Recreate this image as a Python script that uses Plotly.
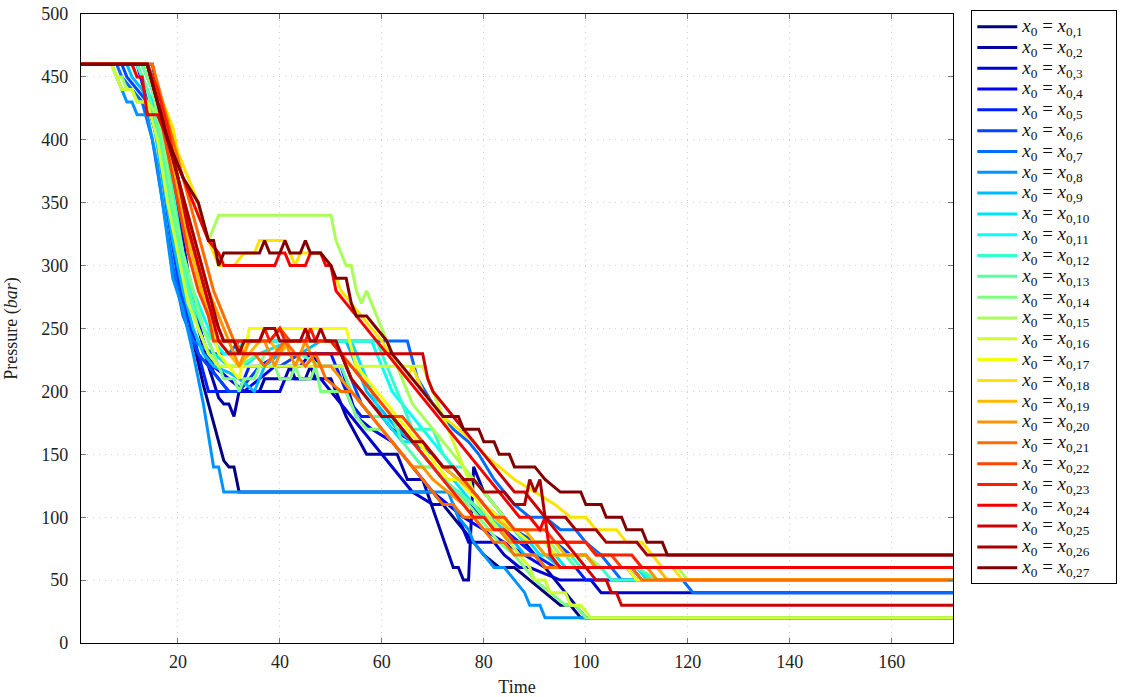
import plotly.graph_objects as go

# ---- data: breakpoints (time, pressure) of each trajectory ----
T01 = [1,15,17,19,21,23,25,27,28,29,30,31,32,70,72,74,76,78,80,83,86,89,92,95,97,99,172]
P01 = [460,460,420,350,290,240,205,175,160,145,140,140,120,120,110,100,90,80,70,60,60,50,40,30,30,20,20]

T02 = [1,14,16,18,20,22,24,26,28,29,30,31,32,36,37,41,42,43,45,46,47,50,51,53,55,57,63,64,65,68,74,75,76,77,78,80,82,84,86,88,90,92,94,96,98,100,172]
P02 = [460,460,430,390,340,290,250,220,195,190,190,180,200,200,210,210,220,210,210,220,210,210,200,180,165,150,150,140,130,130,60,60,50,50,140,120,110,100,90,80,70,60,50,40,30,20,20]

T03 = [1,14,15,17,19,21,23,25,27,29,30,40,41,48,50,52,54,56,58,60,62,64,66,68,70,74,77,82,84,87,89,95,101,103,172]
P03 = [460,460,450,420,370,320,270,240,215,205,200,200,210,210,200,190,180,170,160,150,140,130,120,115,110,110,80,80,70,60,60,50,50,40,40]

T04 = [1,13,15,17,19,21,23,25,27,30,33,36,39,44,46,48,52,55,58,62,64,66,68,70,73,76,80,84,88,92,96,100,109,111,172]
P04 = [460,460,440,410,360,310,270,240,220,210,200,210,220,220,230,220,220,180,170,160,150,140,130,120,110,100,90,80,70,60,60,60,60,50,50]

T05 = [1,12,14,16,18,20,22,24,26,32,34,36,40,50,52,54,56,60,62,66,68,70,72,74,77,80,84,87,90,94,98,100,172]
P05 = [460,460,430,400,350,300,260,230,200,200,220,220,230,230,210,190,180,180,170,160,150,140,130,120,110,100,90,80,70,60,60,50,50]

T06 = [1,9,10,12,14,16,18,20,22,24,26,28,30,32,34,36,40,44,52,54,56,58,62,64,66,70,72,75,78,80,83,86,90,94,97,100,102,108,110,172]
P06 = [460,460,450,440,430,400,340,290,250,230,220,210,200,200,210,220,220,230,230,210,190,180,180,170,160,150,140,130,120,110,100,90,80,80,70,70,60,60,50,50]

T07 = [1,8,9,11,13,15,17,19,21,23,27,30,32,65,67,70,72,74,77,79,82,84,86,89,92,95,98,100,103,105,107,119,121,172]
P07 = [460,460,450,440,430,400,350,300,260,240,230,230,240,240,210,190,180,170,160,150,130,120,110,100,100,90,90,80,70,60,50,50,40,40]

T08 = [1,7,8,9,10,11,12,14,16,18,19,21,23,25,26,27,28,29,73,75,77,78,80,82,84,86,88,89,91,92,172]
P08 = [460,460,450,440,430,430,420,420,380,320,290,265,230,190,165,140,140,120,120,100,90,80,70,60,60,50,40,30,30,20,20]

T09 = [1,10,11,13,15,17,19,21,23,25,27,30,32,35,37,40,44,48,53,55,57,59,61,63,66,68,70,72,75,78,80,83,86,88,92,95,109,111,172]
P09 = [460,460,450,440,420,370,320,280,250,230,220,215,210,200,220,230,230,240,240,220,200,190,180,170,160,150,140,130,120,110,100,90,80,70,70,60,60,50,50]

T10 = [1,12,13,15,17,19,21,23,25,27,30,33,36,42,54,56,58,60,62,64,66,68,70,72,74,76,78,81,84,86,89,91,94,96,110,112,172]
P10 = [460,460,450,430,390,340,300,270,250,230,220,220,230,240,240,220,200,180,170,160,160,150,140,130,130,120,110,100,90,80,80,70,70,60,60,50,50]

T11 = [1,13,15,17,19,21,23,25,27,29,31,33,58,60,62,64,66,68,70,72,74,76,78,80,83,86,88,92,94,100,102,110,113,172]
P11 = [460,460,440,400,350,310,280,260,240,230,230,240,240,220,200,190,180,170,160,150,140,130,120,110,100,90,80,80,70,70,60,60,50,50]

T12 = [1,13,15,17,19,21,23,25,27,59,61,62,63,65,66,70,72,74,76,78,80,82,84,86,88,92,94,97,99,103,105,172]
P12 = [460,460,440,410,360,310,270,250,240,240,220,210,200,180,170,170,150,140,140,130,120,110,100,90,80,80,70,70,60,60,50,50]

T13 = [1,12,14,16,18,20,22,24,26,28,32,36,44,48,52,54,56,58,62,64,66,68,70,72,75,78,80,83,86,90,92,96,98,110,114,172]
P13 = [460,460,440,410,360,320,280,250,230,220,220,230,230,220,220,200,190,180,180,160,150,140,140,130,120,110,100,90,80,80,70,70,60,60,50,50]

T14 = [1,13,15,17,19,21,23,25,27,29,31,32,33,35,37,38,40,42,43,44,46,47,48,53,55,57,60,62,64,66,70,72,74,77,79,81,83,86,88,90,93,96,98,100,172]
P14 = [460,460,440,400,350,310,280,250,230,210,210,200,210,210,230,230,210,210,220,210,210,220,200,200,180,170,170,160,150,140,140,130,120,110,100,90,80,70,60,50,40,30,30,20,20]

T15 = [1,7,8,9,10,11,12,14,16,18,20,22,23,24,25,26,28,50,51,52,53,54,55,56,57,58,59,60,61,62,63,64,65,66,68,70,72,74,76,78,80,82,84,86,88,90,93,95,100,103,118,120,172]
P15 = [460,460,450,450,440,440,430,430,420,400,380,360,350,350,330,320,340,340,320,310,300,300,280,270,280,270,260,250,240,230,220,210,200,190,180,170,160,150,140,130,120,110,100,90,90,80,80,70,70,60,60,50,50]

T16 = [1,7,8,9,11,12,14,16,18,20,22,24,26,28,68,70,72,73,75,77,79,81,83,85,87,89,90,92,93,96,97,99,101,172]
P16 = [460,460,450,440,440,430,430,400,350,310,270,250,230,220,220,200,180,170,150,130,110,100,90,80,70,60,50,50,40,40,30,30,20,20]

T17 = [1,14,16,17,18,19,20,22,24,26,28,30,32,34,53,55,57,59,61,63,65,67,69,71,73,75,77,80,83,86,89,92,94,98,100,108,110,172]
P17 = [460,460,430,430,420,400,370,330,290,260,230,220,210,250,250,220,210,200,190,180,170,160,150,140,130,130,120,110,100,90,80,80,70,70,60,60,50,50]

T18 = [1,14,15,16,17,19,20,22,24,26,27,28,31,33,35,36,41,43,44,48,50,52,54,56,58,60,63,65,66,68,70,72,75,78,80,83,86,90,94,97,100,102,106,108,111,113,115,117,119,172]
P18 = [460,460,450,430,430,410,390,370,350,320,310,300,300,310,310,320,320,300,310,310,300,280,270,260,250,240,220,210,220,200,190,180,170,160,150,140,130,120,110,100,100,90,90,80,80,70,60,60,50,50]

T19 = [1,14,16,18,20,22,24,26,28,30,32,34,36,38,40,42,50,52,54,56,58,60,62,64,66,68,70,72,75,78,80,82,85,88,90,94,96,100,102,114,116,172]
P19 = [460,460,430,400,360,320,290,260,240,230,220,230,240,240,230,240,240,230,220,210,200,190,180,170,160,160,150,140,130,120,110,100,90,90,80,80,70,70,60,60,50,50]

T20 = [1,14,16,18,20,22,24,26,28,30,32,34,37,39,41,43,45,47,50,52,54,56,58,60,62,64,66,68,70,73,76,78,80,83,85,90,92,100,102,112,114,172]
P20 = [460,460,430,400,370,340,310,280,260,240,220,240,240,220,240,220,240,220,220,210,200,190,180,170,160,150,140,140,130,120,110,100,90,90,80,80,70,70,60,60,50,50]

T21 = [1,15,17,19,21,23,25,27,29,31,33,35,37,39,41,43,45,47,49,52,54,56,58,60,62,64,66,68,70,72,74,76,78,80,82,84,86,90,92,109,111,172]
P21 = [460,460,430,400,370,340,310,280,260,240,230,230,220,230,240,230,220,230,210,200,200,190,180,170,160,150,140,130,120,110,110,100,100,90,80,80,70,70,60,60,50,50]

T22 = [1,14,16,18,20,22,24,26,27,38,40,42,50,52,54,56,58,60,62,64,66,68,70,72,74,76,78,80,82,84,86,92,94,100,102,105,107,172]
P22 = [460,460,430,390,350,310,280,260,240,240,250,240,240,230,220,210,200,190,180,180,170,160,150,140,140,130,120,110,100,100,90,90,80,80,70,70,60,60]

T23 = [1,14,16,18,20,22,24,26,28,29,36,37,38,40,41,45,46,47,50,52,54,56,58,60,62,64,66,68,70,72,74,76,78,80,82,84,86,88,90,100,102,109,111,172]
P23 = [460,460,440,410,370,330,300,270,250,240,240,250,240,250,240,240,250,240,240,230,210,200,190,180,180,170,160,150,140,130,120,110,100,100,90,90,80,80,80,80,70,70,60,60]

T24 = [1,11,12,13,14,16,18,20,22,24,26,28,29,39,40,41,42,45,46,48,49,50,51,53,55,57,59,61,63,65,67,69,71,73,75,77,79,81,83,85,87,89,91,92,93,95,172]
P24 = [460,460,450,450,420,420,400,380,360,340,320,310,300,300,310,310,300,300,310,310,300,300,280,270,260,250,240,230,220,210,200,190,180,170,160,150,140,130,120,110,100,100,90,100,70,60,60]

T25 = [1,14,16,18,20,22,24,26,28,30,68,69,70,72,74,76,78,80,82,84,86,88,90,92,94,96,98,100,102,104,105,106,107,172]
P25 = [460,460,430,400,370,330,300,270,240,230,230,210,200,190,180,170,160,150,140,130,120,120,110,100,90,80,70,60,50,50,40,40,30,30]

T26 = [1,14,16,18,20,22,24,26,28,29,31,32,33,36,37,39,40,44,45,46,47,48,49,51,52,54,56,58,60,62,64,66,68,70,72,74,76,78,80,84,86,88,89,90,91,92,96,98,102,104,110,112,172]
P26 = [460,460,430,400,370,340,310,280,250,240,240,230,240,240,250,250,240,240,250,240,240,250,240,240,230,210,200,190,180,180,170,160,160,150,140,140,130,130,120,120,110,110,130,120,130,100,100,90,90,80,80,70,70]

T27 = [1,14,16,18,21,24,26,27,28,29,36,37,38,40,41,42,44,45,46,48,50,51,53,54,55,57,59,61,62,64,66,68,70,72,75,76,79,80,82,83,85,86,90,92,95,99,100,103,104,107,108,111,112,115,116,172]
P27 = [460,460,430,400,370,350,320,320,300,310,310,320,310,310,320,310,310,320,310,310,300,290,290,270,260,260,250,240,230,220,210,200,190,180,180,170,170,160,160,150,150,140,140,130,120,120,110,110,100,100,90,90,80,80,70,70]

TIMES = [T01,T02,T03,T04,T05,T06,T07,T08,T09,T10,T11,T12,T13,T14,T15,T16,T17,T18,T19,T20,T21,T22,T23,T24,T25,T26,T27]
PRESSURES = [P01,P02,P03,P04,P05,P06,P07,P08,P09,P10,P11,P12,P13,P14,P15,P16,P17,P18,P19,P20,P21,P22,P23,P24,P25,P26,P27]
SERIES_IDS = list(range(1, 28))

X_TICKS = [20, 40, 60, 80, 100, 120, 140, 160]
Y_TICKS = [0, 50, 100, 150, 200, 250, 300, 350, 400, 450, 500]


def jet(t):
    def c(v):
        return max(0.0, min(1.0, v))
    r = c(1.5 - abs(4 * t - 3))
    g = c(1.5 - abs(4 * t - 2))
    b = c(1.5 - abs(4 * t - 1))
    return "rgb(%d,%d,%d)" % (round(r * 255), round(g * 255), round(b * 255))


FONT = "Liberation Serif, DejaVu Serif, serif"

fig = go.Figure()
n = len(SERIES_IDS)
for i, (k, t, p) in enumerate(zip(SERIES_IDS, TIMES, PRESSURES)):
    label = ('<span style="font-size:19px"><i>x</i><sub>0</sub> = '
             '<i>x</i><sub>0,%d</sub></span>&nbsp;&nbsp;&nbsp;&nbsp;&nbsp;&nbsp;' % k)
    fig.add_trace(go.Scatter(
        x=t, y=p, mode="lines",
        line=dict(color=jet(i / (n - 1)), width=3),
        name=label,
    ))

axis_common = dict(
    showline=True, linecolor="black", linewidth=1.2, mirror="allticks",
    ticks="inside", ticklen=5, tickcolor="#777777", tickwidth=1,
    showgrid=True, gridcolor="#cfcfcf", griddash="1px,5px", gridwidth=1,
    zeroline=False, automargin=False,
    tickfont=dict(family=FONT, size=18, color="#222222"),
)

fig.update_xaxes(range=[1, 172], tickvals=X_TICKS, ticklabelstandoff=2,
                 title=dict(text="Time", font=dict(family=FONT, size=18, color="#222222"), standoff=12),
                 **axis_common)
fig.update_yaxes(range=[0, 500], tickvals=Y_TICKS, ticklabelstandoff=8,
                 title=dict(text="Pressure (<i>bar</i>)", font=dict(family=FONT, size=18, color="#222222"), standoff=18),
                 **axis_common)

fig.update_layout(
    width=1126, height=697,
    margin=dict(l=81, r=173, t=14, b=54, autoexpand=False),
    paper_bgcolor="white", plot_bgcolor="white",
    showlegend=True,
    legend=dict(
        x=1.021, y=1.006, xanchor="left", yanchor="top",
        bordercolor="black", borderwidth=1,
        font=dict(family=FONT, size=13.7, color="#111111"),
        tracegroupgap=0, itemwidth=40, maxheight=690,
    ),
)

fig.write_html("out.html", config={"displayModeBar": False},
               post_script="document.body.style.margin='0px';")
